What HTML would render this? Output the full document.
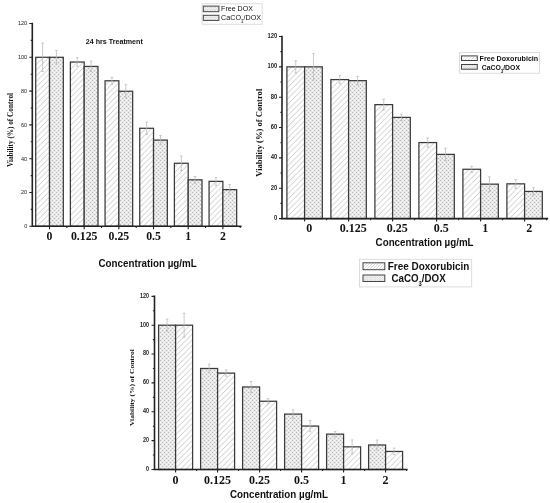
<!DOCTYPE html>
<html><head><meta charset="utf-8"><title>Viability charts</title>
<style>html,body{margin:0;padding:0;background:#fff;}body{width:550px;height:503px;overflow:hidden;font-family:"Liberation Sans",sans-serif;}svg{display:block;will-change:transform;}</style>
</head><body>
<svg width="550" height="503" viewBox="0 0 550 503"><defs>
<pattern id="cross" patternUnits="userSpaceOnUse" width="4" height="4"><rect width="4" height="4" fill="#e8e8e8"/><rect x="0" y="0" width="1" height="1" fill="#b8b8b8"/><rect x="2" y="2" width="1" height="1" fill="#b8b8b8"/><rect x="2" y="0" width="1" height="1" fill="#fcfcfc"/><rect x="0" y="2" width="1" height="1" fill="#fcfcfc"/></pattern>
<pattern id="diag" patternUnits="userSpaceOnUse" width="5.6" height="5.6"><rect width="5.6" height="5.6" fill="#fff"/><path d="M-1 6.6L6.6 -1M-1 1L1 -1M4.6 6.6L6.6 4.6" stroke="#c4c4c4" stroke-width="0.9"/></pattern>
<pattern id="ldiag" patternUnits="userSpaceOnUse" width="3" height="3"><rect width="3" height="3" fill="#fff"/><path d="M-1 4L4 -1" stroke="#c8c8c8" stroke-width="0.7"/></pattern>
<pattern id="lcross" patternUnits="userSpaceOnUse" width="2.5" height="2.5"><rect width="2.5" height="2.5" fill="#fff"/><path d="M0 0L2.5 2.5M2.5 0L0 2.5" stroke="#cfcfcf" stroke-width="0.7"/></pattern>
</defs>
<rect x="35.72" y="57.3" width="13.8" height="169" fill="url(#diag)" stroke="#3a3a3a" stroke-width="1.25"/>
<rect x="49.52" y="57.3" width="13.8" height="169" fill="url(#cross)" stroke="#3a3a3a" stroke-width="1.25"/>
<rect x="70.39" y="62.03" width="13.8" height="164.27" fill="url(#diag)" stroke="#3a3a3a" stroke-width="1.25"/>
<rect x="84.19" y="66.43" width="13.8" height="159.87" fill="url(#cross)" stroke="#3a3a3a" stroke-width="1.25"/>
<rect x="105.06" y="80.79" width="13.8" height="145.51" fill="url(#diag)" stroke="#3a3a3a" stroke-width="1.25"/>
<rect x="118.86" y="91.27" width="13.8" height="135.03" fill="url(#cross)" stroke="#3a3a3a" stroke-width="1.25"/>
<rect x="139.73" y="128.28" width="13.8" height="98.02" fill="url(#diag)" stroke="#3a3a3a" stroke-width="1.25"/>
<rect x="153.53" y="140.11" width="13.8" height="86.19" fill="url(#cross)" stroke="#3a3a3a" stroke-width="1.25"/>
<rect x="174.4" y="163.26" width="13.8" height="63.04" fill="url(#diag)" stroke="#3a3a3a" stroke-width="1.25"/>
<rect x="188.2" y="179.83" width="13.8" height="46.47" fill="url(#cross)" stroke="#3a3a3a" stroke-width="1.25"/>
<rect x="209.07" y="181.35" width="13.8" height="44.95" fill="url(#diag)" stroke="#3a3a3a" stroke-width="1.25"/>
<rect x="222.87" y="189.63" width="13.8" height="36.67" fill="url(#cross)" stroke="#3a3a3a" stroke-width="1.25"/>
<path d="M42.62 43.1V71.5M41.32 43.1H43.92M41.32 71.5H43.92" stroke="#b8b8b8" stroke-width="0.75" fill="none"/>
<path d="M56.42 50.54V64.06M55.12 50.54H57.72M55.12 64.06H57.72" stroke="#b8b8b8" stroke-width="0.75" fill="none"/>
<path d="M77.29 57.47V66.6M75.99 57.47H78.59M75.99 66.6H78.59" stroke="#b8b8b8" stroke-width="0.75" fill="none"/>
<path d="M91.09 61.19V71.67M89.79 61.19H92.39M89.79 71.67H92.39" stroke="#b8b8b8" stroke-width="0.75" fill="none"/>
<path d="M111.96 77.41V84.17M110.66 77.41H113.26M110.66 84.17H113.26" stroke="#b8b8b8" stroke-width="0.75" fill="none"/>
<path d="M125.76 84.68V97.86M124.46 84.68H127.06M124.46 97.86H127.06" stroke="#b8b8b8" stroke-width="0.75" fill="none"/>
<path d="M146.63 122.2V134.36M145.33 122.2H147.93M145.33 134.36H147.93" stroke="#b8b8b8" stroke-width="0.75" fill="none"/>
<path d="M160.43 135.38V144.84M159.13 135.38H161.73M159.13 144.84H161.73" stroke="#b8b8b8" stroke-width="0.75" fill="none"/>
<path d="M181.3 156V170.53M180 156H182.6M180 170.53H182.6" stroke="#b8b8b8" stroke-width="0.75" fill="none"/>
<path d="M195.1 176.45V183.21M193.8 176.45H196.4M193.8 183.21H196.4" stroke="#b8b8b8" stroke-width="0.75" fill="none"/>
<path d="M215.97 177.46V185.23M214.67 177.46H217.27M214.67 185.23H217.27" stroke="#b8b8b8" stroke-width="0.75" fill="none"/>
<path d="M229.77 184.56V194.7M228.47 184.56H231.07M228.47 194.7H231.07" stroke="#b8b8b8" stroke-width="0.75" fill="none"/>
<path d="M32.3 23.5V226.3H240.8" stroke="#222" stroke-width="1.6" fill="none" stroke-linecap="square"/>
<path d="M29.3 226.3H32.3M29.3 192.5H32.3M29.3 158.7H32.3M29.3 124.9H32.3M29.3 91.1H32.3M29.3 57.3H32.3M29.3 23.5H32.3M30.7 209.4H32.3M30.7 175.6H32.3M30.7 141.8H32.3M30.7 108H32.3M30.7 74.2H32.3M30.7 40.4H32.3M49.52 226.3V229.3M66.86 226.3V227.9M84.19 226.3V229.3M101.53 226.3V227.9M118.86 226.3V229.3M136.2 226.3V227.9M153.53 226.3V229.3M170.87 226.3V227.9M188.2 226.3V229.3M205.54 226.3V227.9M222.87 226.3V229.3M240.21 226.3V227.9" stroke="#222" stroke-width="1.1" fill="none"/>
<text x="27.2" y="228.2" text-anchor="end" font-family='"Liberation Sans", sans-serif' font-size="6.1" font-weight="normal" fill="#222" textLength="3.07" lengthAdjust="spacingAndGlyphs">0</text>
<text x="27.2" y="194.4" text-anchor="end" font-family='"Liberation Sans", sans-serif' font-size="6.1" font-weight="normal" fill="#222" textLength="6.14" lengthAdjust="spacingAndGlyphs">20</text>
<text x="27.2" y="160.6" text-anchor="end" font-family='"Liberation Sans", sans-serif' font-size="6.1" font-weight="normal" fill="#222" textLength="6.14" lengthAdjust="spacingAndGlyphs">40</text>
<text x="27.2" y="126.8" text-anchor="end" font-family='"Liberation Sans", sans-serif' font-size="6.1" font-weight="normal" fill="#222" textLength="6.14" lengthAdjust="spacingAndGlyphs">60</text>
<text x="27.2" y="93" text-anchor="end" font-family='"Liberation Sans", sans-serif' font-size="6.1" font-weight="normal" fill="#222" textLength="6.14" lengthAdjust="spacingAndGlyphs">80</text>
<text x="27.2" y="59.2" text-anchor="end" font-family='"Liberation Sans", sans-serif' font-size="6.1" font-weight="normal" fill="#222" textLength="9.21" lengthAdjust="spacingAndGlyphs">100</text>
<text x="27.2" y="25.4" text-anchor="end" font-family='"Liberation Sans", sans-serif' font-size="6.1" font-weight="normal" fill="#222" textLength="9.21" lengthAdjust="spacingAndGlyphs">120</text>
<text x="49.52" y="240.1" text-anchor="middle" font-family='"Liberation Serif", serif' font-size="11.8" font-weight="bold" fill="#111">0</text>
<text x="84.19" y="240.1" text-anchor="middle" font-family='"Liberation Serif", serif' font-size="11.8" font-weight="bold" fill="#111">0.125</text>
<text x="118.86" y="240.1" text-anchor="middle" font-family='"Liberation Serif", serif' font-size="11.8" font-weight="bold" fill="#111">0.25</text>
<text x="153.53" y="240.1" text-anchor="middle" font-family='"Liberation Serif", serif' font-size="11.8" font-weight="bold" fill="#111">0.5</text>
<text x="188.2" y="240.1" text-anchor="middle" font-family='"Liberation Serif", serif' font-size="11.8" font-weight="bold" fill="#111">1</text>
<text x="222.87" y="240.1" text-anchor="middle" font-family='"Liberation Serif", serif' font-size="11.8" font-weight="bold" fill="#111">2</text>
<text x="98.5" y="267.2" font-family='"Liberation Sans", sans-serif' font-size="10.8" font-weight="bold" fill="#111" textLength="98.2" lengthAdjust="spacingAndGlyphs">Concentration µg/mL</text>
<text transform="translate(12.5 130) rotate(-90)" text-anchor="middle" font-family='"Liberation Serif", serif' font-size="7.2" font-weight="bold" fill="#111" textLength="74" lengthAdjust="spacingAndGlyphs">Viability (%) of Control</text>
<rect x="286.9" y="66.85" width="17.7" height="151.75" fill="url(#diag)" stroke="#3a3a3a" stroke-width="1.25"/>
<rect x="304.6" y="66.85" width="17.7" height="151.75" fill="url(#cross)" stroke="#3a3a3a" stroke-width="1.25"/>
<rect x="330.9" y="79.6" width="17.7" height="139" fill="url(#diag)" stroke="#3a3a3a" stroke-width="1.25"/>
<rect x="348.6" y="80.66" width="17.7" height="137.94" fill="url(#cross)" stroke="#3a3a3a" stroke-width="1.25"/>
<rect x="374.9" y="104.64" width="17.7" height="113.96" fill="url(#diag)" stroke="#3a3a3a" stroke-width="1.25"/>
<rect x="392.6" y="117.38" width="17.7" height="101.22" fill="url(#cross)" stroke="#3a3a3a" stroke-width="1.25"/>
<rect x="418.9" y="142.57" width="17.7" height="76.03" fill="url(#diag)" stroke="#3a3a3a" stroke-width="1.25"/>
<rect x="436.6" y="154.41" width="17.7" height="64.19" fill="url(#cross)" stroke="#3a3a3a" stroke-width="1.25"/>
<rect x="462.9" y="169.28" width="17.7" height="49.32" fill="url(#diag)" stroke="#3a3a3a" stroke-width="1.25"/>
<rect x="480.6" y="184.15" width="17.7" height="34.45" fill="url(#cross)" stroke="#3a3a3a" stroke-width="1.25"/>
<rect x="506.9" y="183.85" width="17.7" height="34.75" fill="url(#diag)" stroke="#3a3a3a" stroke-width="1.25"/>
<rect x="524.6" y="191.44" width="17.7" height="27.16" fill="url(#cross)" stroke="#3a3a3a" stroke-width="1.25"/>
<path d="M295.75 60.78V72.92M294.45 60.78H297.05M294.45 72.92H297.05" stroke="#b8b8b8" stroke-width="0.75" fill="none"/>
<path d="M313.45 53.65V80.05M312.15 53.65H314.75M312.15 80.05H314.75" stroke="#b8b8b8" stroke-width="0.75" fill="none"/>
<path d="M339.75 75.35V83.85M338.45 75.35H341.05M338.45 83.85H341.05" stroke="#b8b8b8" stroke-width="0.75" fill="none"/>
<path d="M357.45 76.41V84.91M356.15 76.41H358.75M356.15 84.91H358.75" stroke="#b8b8b8" stroke-width="0.75" fill="none"/>
<path d="M383.75 99.17V110.1M382.45 99.17H385.05M382.45 110.1H385.05" stroke="#b8b8b8" stroke-width="0.75" fill="none"/>
<path d="M401.45 114.2V120.57M400.15 114.2H402.75M400.15 120.57H402.75" stroke="#b8b8b8" stroke-width="0.75" fill="none"/>
<path d="M427.75 138.02V147.13M426.45 138.02H429.05M426.45 147.13H429.05" stroke="#b8b8b8" stroke-width="0.75" fill="none"/>
<path d="M445.45 148.19V160.63M444.15 148.19H446.75M444.15 160.63H446.75" stroke="#b8b8b8" stroke-width="0.75" fill="none"/>
<path d="M471.75 166.25V172.32M470.45 166.25H473.05M470.45 172.32H473.05" stroke="#b8b8b8" stroke-width="0.75" fill="none"/>
<path d="M489.45 176.87V191.44M488.15 176.87H490.75M488.15 191.44H490.75" stroke="#b8b8b8" stroke-width="0.75" fill="none"/>
<path d="M515.75 179.45V188.25M514.45 179.45H517.05M514.45 188.25H517.05" stroke="#b8b8b8" stroke-width="0.75" fill="none"/>
<path d="M533.45 187.79V195.08M532.15 187.79H534.75M532.15 195.08H534.75" stroke="#b8b8b8" stroke-width="0.75" fill="none"/>
<path d="M282 36.5V218.6H547.4" stroke="#222" stroke-width="1.6" fill="none" stroke-linecap="square"/>
<path d="M279 218.6H282M279 188.25H282M279 157.9H282M279 127.55H282M279 97.2H282M279 66.85H282M279 36.5H282M280.4 203.42H282M280.4 173.07H282M280.4 142.72H282M280.4 112.37H282M280.4 82.02H282M280.4 51.67H282M304.6 218.6V221.6M326.6 218.6V220.2M348.6 218.6V221.6M370.6 218.6V220.2M392.6 218.6V221.6M414.6 218.6V220.2M436.6 218.6V221.6M458.6 218.6V220.2M480.6 218.6V221.6M502.6 218.6V220.2M524.6 218.6V221.6M546.6 218.6V220.2" stroke="#222" stroke-width="1.1" fill="none"/>
<text x="277.2" y="220" text-anchor="end" font-family='"Liberation Sans", sans-serif' font-size="6.4" font-weight="bold" fill="#222" textLength="3.25" lengthAdjust="spacingAndGlyphs">0</text>
<text x="277.2" y="189.65" text-anchor="end" font-family='"Liberation Sans", sans-serif' font-size="6.4" font-weight="bold" fill="#222" textLength="6.5" lengthAdjust="spacingAndGlyphs">20</text>
<text x="277.2" y="159.3" text-anchor="end" font-family='"Liberation Sans", sans-serif' font-size="6.4" font-weight="bold" fill="#222" textLength="6.5" lengthAdjust="spacingAndGlyphs">40</text>
<text x="277.2" y="128.95" text-anchor="end" font-family='"Liberation Sans", sans-serif' font-size="6.4" font-weight="bold" fill="#222" textLength="6.5" lengthAdjust="spacingAndGlyphs">60</text>
<text x="277.2" y="98.6" text-anchor="end" font-family='"Liberation Sans", sans-serif' font-size="6.4" font-weight="bold" fill="#222" textLength="6.5" lengthAdjust="spacingAndGlyphs">80</text>
<text x="277.2" y="68.25" text-anchor="end" font-family='"Liberation Sans", sans-serif' font-size="6.4" font-weight="bold" fill="#222" textLength="9.75" lengthAdjust="spacingAndGlyphs">100</text>
<text x="277.2" y="37.9" text-anchor="end" font-family='"Liberation Sans", sans-serif' font-size="6.4" font-weight="bold" fill="#222" textLength="9.75" lengthAdjust="spacingAndGlyphs">120</text>
<text x="309.2" y="232.4" text-anchor="middle" font-family='"Liberation Serif", serif' font-size="12" font-weight="bold" fill="#111">0</text>
<text x="353.2" y="232.4" text-anchor="middle" font-family='"Liberation Serif", serif' font-size="12" font-weight="bold" fill="#111">0.125</text>
<text x="397.2" y="232.4" text-anchor="middle" font-family='"Liberation Serif", serif' font-size="12" font-weight="bold" fill="#111">0.25</text>
<text x="441.2" y="232.4" text-anchor="middle" font-family='"Liberation Serif", serif' font-size="12" font-weight="bold" fill="#111">0.5</text>
<text x="485.2" y="232.4" text-anchor="middle" font-family='"Liberation Serif", serif' font-size="12" font-weight="bold" fill="#111">1</text>
<text x="529.2" y="232.4" text-anchor="middle" font-family='"Liberation Serif", serif' font-size="12" font-weight="bold" fill="#111">2</text>
<text x="375.6" y="246.4" font-family='"Liberation Sans", sans-serif' font-size="10.5" font-weight="bold" fill="#111" textLength="98" lengthAdjust="spacingAndGlyphs">Concentration µg/mL</text>
<text transform="translate(262 132.7) rotate(-90)" text-anchor="middle" font-family='"Liberation Serif", serif' font-size="7.6" font-weight="bold" fill="#111" textLength="88" lengthAdjust="spacingAndGlyphs">Viability (%) of Control</text>
<rect x="158.6" y="325.2" width="17" height="144.3" fill="url(#cross)" stroke="#3a3a3a" stroke-width="1.25"/>
<rect x="175.6" y="325.2" width="17" height="144.3" fill="url(#diag)" stroke="#3a3a3a" stroke-width="1.25"/>
<rect x="200.6" y="368.49" width="17" height="101.01" fill="url(#cross)" stroke="#3a3a3a" stroke-width="1.25"/>
<rect x="217.6" y="373.11" width="17" height="96.39" fill="url(#diag)" stroke="#3a3a3a" stroke-width="1.25"/>
<rect x="242.6" y="386.96" width="17" height="82.54" fill="url(#cross)" stroke="#3a3a3a" stroke-width="1.25"/>
<rect x="259.6" y="401.25" width="17" height="68.25" fill="url(#diag)" stroke="#3a3a3a" stroke-width="1.25"/>
<rect x="284.6" y="414.09" width="17" height="55.41" fill="url(#cross)" stroke="#3a3a3a" stroke-width="1.25"/>
<rect x="301.6" y="426.07" width="17" height="43.43" fill="url(#diag)" stroke="#3a3a3a" stroke-width="1.25"/>
<rect x="326.6" y="434.15" width="17" height="35.35" fill="url(#cross)" stroke="#3a3a3a" stroke-width="1.25"/>
<rect x="343.6" y="446.84" width="17" height="22.66" fill="url(#diag)" stroke="#3a3a3a" stroke-width="1.25"/>
<rect x="368.6" y="444.97" width="17" height="24.53" fill="url(#cross)" stroke="#3a3a3a" stroke-width="1.25"/>
<rect x="385.6" y="451.46" width="17" height="18.04" fill="url(#diag)" stroke="#3a3a3a" stroke-width="1.25"/>
<path d="M167.1 319.14V331.26M165.8 319.14H168.4M165.8 331.26H168.4" stroke="#b8b8b8" stroke-width="0.75" fill="none"/>
<path d="M184.1 313.22V337.18M182.8 313.22H185.4M182.8 337.18H185.4" stroke="#b8b8b8" stroke-width="0.75" fill="none"/>
<path d="M209.1 364.16V372.82M207.8 364.16H210.4M207.8 372.82H210.4" stroke="#b8b8b8" stroke-width="0.75" fill="none"/>
<path d="M226.1 369.93V376.28M224.8 369.93H227.4M224.8 376.28H227.4" stroke="#b8b8b8" stroke-width="0.75" fill="none"/>
<path d="M251.1 381.48V392.44M249.8 381.48H252.4M249.8 392.44H252.4" stroke="#b8b8b8" stroke-width="0.75" fill="none"/>
<path d="M268.1 398.65V403.84M266.8 398.65H269.4M266.8 403.84H269.4" stroke="#b8b8b8" stroke-width="0.75" fill="none"/>
<path d="M293.1 409.9V418.27M291.8 409.9H294.4M291.8 418.27H294.4" stroke="#b8b8b8" stroke-width="0.75" fill="none"/>
<path d="M310.1 420.44V431.69M308.8 420.44H311.4M308.8 431.69H311.4" stroke="#b8b8b8" stroke-width="0.75" fill="none"/>
<path d="M335.1 431.55V436.74M333.8 431.55H336.4M333.8 436.74H336.4" stroke="#b8b8b8" stroke-width="0.75" fill="none"/>
<path d="M352.1 439.92V453.77M350.8 439.92H353.4M350.8 453.77H353.4" stroke="#b8b8b8" stroke-width="0.75" fill="none"/>
<path d="M377.1 440.06V449.88M375.8 440.06H378.4M375.8 449.88H378.4" stroke="#b8b8b8" stroke-width="0.75" fill="none"/>
<path d="M394.1 448.14V454.78M392.8 448.14H395.4M392.8 454.78H395.4" stroke="#b8b8b8" stroke-width="0.75" fill="none"/>
<path d="M154.5 296.34V469.5H406.8" stroke="#222" stroke-width="1.6" fill="none" stroke-linecap="square"/>
<path d="M151.5 469.5H154.5M151.5 440.64H154.5M151.5 411.78H154.5M151.5 382.92H154.5M151.5 354.06H154.5M151.5 325.2H154.5M151.5 296.34H154.5M152.9 455.07H154.5M152.9 426.21H154.5M152.9 397.35H154.5M152.9 368.49H154.5M152.9 339.63H154.5M152.9 310.77H154.5M175.6 469.5V472.5M196.6 469.5V471.1M217.6 469.5V472.5M238.6 469.5V471.1M259.6 469.5V472.5M280.6 469.5V471.1M301.6 469.5V472.5M322.6 469.5V471.1M343.6 469.5V472.5M364.6 469.5V471.1M385.6 469.5V472.5M406.6 469.5V471.1" stroke="#222" stroke-width="1.1" fill="none"/>
<text x="149.1" y="470.8" text-anchor="end" font-family='"Liberation Sans", sans-serif' font-size="6.4" font-weight="bold" fill="#222" textLength="3" lengthAdjust="spacingAndGlyphs">0</text>
<text x="149.1" y="441.94" text-anchor="end" font-family='"Liberation Sans", sans-serif' font-size="6.4" font-weight="bold" fill="#222" textLength="6" lengthAdjust="spacingAndGlyphs">20</text>
<text x="149.1" y="413.08" text-anchor="end" font-family='"Liberation Sans", sans-serif' font-size="6.4" font-weight="bold" fill="#222" textLength="6" lengthAdjust="spacingAndGlyphs">40</text>
<text x="149.1" y="384.22" text-anchor="end" font-family='"Liberation Sans", sans-serif' font-size="6.4" font-weight="bold" fill="#222" textLength="6" lengthAdjust="spacingAndGlyphs">60</text>
<text x="149.1" y="355.36" text-anchor="end" font-family='"Liberation Sans", sans-serif' font-size="6.4" font-weight="bold" fill="#222" textLength="6" lengthAdjust="spacingAndGlyphs">80</text>
<text x="149.1" y="326.5" text-anchor="end" font-family='"Liberation Sans", sans-serif' font-size="6.4" font-weight="bold" fill="#222" textLength="9" lengthAdjust="spacingAndGlyphs">100</text>
<text x="149.1" y="297.64" text-anchor="end" font-family='"Liberation Sans", sans-serif' font-size="6.4" font-weight="bold" fill="#222" textLength="9" lengthAdjust="spacingAndGlyphs">120</text>
<text x="175.6" y="483.8" text-anchor="middle" font-family='"Liberation Serif", serif' font-size="12" font-weight="bold" fill="#111">0</text>
<text x="217.6" y="483.8" text-anchor="middle" font-family='"Liberation Serif", serif' font-size="12" font-weight="bold" fill="#111">0.125</text>
<text x="259.6" y="483.8" text-anchor="middle" font-family='"Liberation Serif", serif' font-size="12" font-weight="bold" fill="#111">0.25</text>
<text x="301.6" y="483.8" text-anchor="middle" font-family='"Liberation Serif", serif' font-size="12" font-weight="bold" fill="#111">0.5</text>
<text x="343.6" y="483.8" text-anchor="middle" font-family='"Liberation Serif", serif' font-size="12" font-weight="bold" fill="#111">1</text>
<text x="385.6" y="483.8" text-anchor="middle" font-family='"Liberation Serif", serif' font-size="12" font-weight="bold" fill="#111">2</text>
<text x="230" y="498.1" font-family='"Liberation Sans", sans-serif' font-size="10.3" font-weight="bold" fill="#111" textLength="98" lengthAdjust="spacingAndGlyphs">Concentration µg/mL</text>
<text transform="translate(133.5 387.6) rotate(-90)" text-anchor="middle" font-family='"Liberation Serif", serif' font-size="6.8" font-weight="bold" fill="#111" textLength="77" lengthAdjust="spacingAndGlyphs">Viability (%) of Control</text>
<rect x="202" y="3.8" width="60.2" height="20.4" fill="#fff" stroke="#d4d4d4" stroke-width="0.8"/>
<rect x="203.3" y="6.1" width="15.6" height="5.6" fill="url(#lcross)" stroke="#444" stroke-width="1"/>
<rect x="203.3" y="15.3" width="15.6" height="5.1" fill="url(#lcross)" stroke="#444" stroke-width="1"/>
<text x="221.1" y="11.3" font-family='"Liberation Sans", sans-serif' font-size="7.9" font-weight="normal" fill="#111" textLength="31.8" lengthAdjust="spacingAndGlyphs">Free DOX</text>
<text x="221.1" y="20.2" font-family='"Liberation Sans", sans-serif' font-size="7.9" font-weight="normal" fill="#111" textLength="40" lengthAdjust="spacingAndGlyphs">CaCO<tspan font-size="4.74" dy="3.16">3</tspan><tspan dy="-3.16">/DOX</tspan></text>
<rect x="459.5" y="52.6" width="80" height="20.6" fill="#fff" stroke="#d4d4d4" stroke-width="0.8"/>
<rect x="461.5" y="55.9" width="15.8" height="4.6" fill="url(#ldiag)" stroke="#444" stroke-width="1"/>
<rect x="461.5" y="64.5" width="15.8" height="4.7" fill="url(#lcross)" stroke="#444" stroke-width="1"/>
<text x="479.6" y="60.8" font-family='"Liberation Sans", sans-serif' font-size="7.6" font-weight="bold" fill="#111" textLength="58.6" lengthAdjust="spacingAndGlyphs">Free Doxorubicin</text>
<text x="481.8" y="69.9" font-family='"Liberation Sans", sans-serif' font-size="7.6" font-weight="bold" fill="#111" textLength="38.2" lengthAdjust="spacingAndGlyphs">CaCO<tspan font-size="4.56" dy="3.04">3</tspan><tspan dy="-3.04">/DOX</tspan></text>
<rect x="359.5" y="259.3" width="112.2" height="27.6" fill="#fff" stroke="#d4d4d4" stroke-width="0.8"/>
<rect x="363" y="262.8" width="21.8" height="6.9" fill="url(#ldiag)" stroke="#444" stroke-width="1"/>
<rect x="363" y="275" width="21.8" height="6.5" fill="url(#lcross)" stroke="#444" stroke-width="1"/>
<text x="387.8" y="269.7" font-family='"Liberation Sans", sans-serif' font-size="10.5" font-weight="bold" fill="#111" textLength="81.6" lengthAdjust="spacingAndGlyphs">Free Doxorubicin</text>
<text x="391.4" y="282" font-family='"Liberation Sans", sans-serif' font-size="10.5" font-weight="bold" fill="#111" textLength="54.3" lengthAdjust="spacingAndGlyphs">CaCO<tspan font-size="6.3" dy="4.2">3</tspan><tspan dy="-4.2">/DOX</tspan></text>
<text x="85.8" y="43.6" font-family='"Liberation Sans", sans-serif' font-size="7.8" font-weight="bold" fill="#111" textLength="57" lengthAdjust="spacingAndGlyphs">24 hrs Treatment</text></svg>
</body></html>
